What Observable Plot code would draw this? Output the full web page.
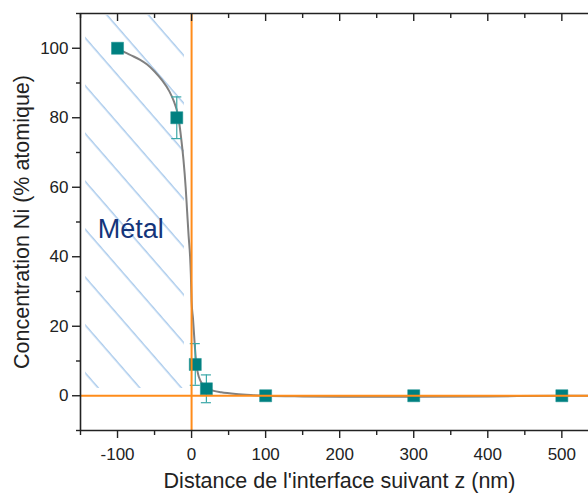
<!DOCTYPE html>
<html><head><meta charset="utf-8">
<script src="https://cdn.jsdelivr.net/npm/d3@7"></script>
<script src="https://cdn.jsdelivr.net/npm/@observablehq/plot@0.6"></script>
<style>body{margin:0;background:#fff} #chart svg{display:block}</style>
</head><body><div id="chart"></div>
<script>
// Measured points
const distance = [-100, -20, 5, 20, 100, 300, 500];
const concentration = [100, 80, 9, 2, 0, 0, 0];
const errorBar = [0, 6, 6, 4, 0, 0, 0];
// Fitted curve
const fitX = [-100, -90, -80, -70, -60, -50, -40, -30, -24, -20, -17, -14, -11, -8, -6, -4, -2, -1, 0, 2, 4, 6, 8, 10, 15, 20, 30, 40, 60, 80, 100, 150, 200, 300, 400, 500, 536];
const fitY = [100, 98.8, 97.8, 96.7, 95.3, 93.3, 90.8, 87.6, 84.8, 82.2, 79, 74, 68, 60, 53, 46, 40, 35, 27.3, 22, 15.5, 10, 7, 5.3, 3.2, 2.3, 1.4, 1.0, 0.5, 0.2, 0, -0.2, -0.3, -0.3, -0.2, 0, 0];
// Axes
const xTicks = [-100, 0, 100, 200, 300, 400, 500];
const xMinorTicks = [-150, -50, 50, 150, 250, 350, 450];
const yTicks = [0, 20, 40, 60, 80, 100];
const yMinorTicks = [-10, 10, 30, 50, 70, 90, 110];
const xDomain = [-150, 536];
const yDomain = [-10, 110];
const xTitle = "Distance de l'interface suivant z (nm)";
const yTitle = "Concentration Ni (% atomique)";
// Metal zone
const metalLabel = "Métal";
const metalZone = {x1: -143, x2: -9.6, y1: 2.1, y2: 109.4};

const points = distance.map((x, i) => ({x, y: concentration[i], e: errorBar[i]}));
const errs = points.filter(d => d.e > 0);
const fit = fitX.map((x, i) => ({x, y: fitY[i]}));

const W = 588, H = 493, mt = 13, mb = 63, ml = 80, mr = 0;
const frameH = H - mt - mb;
const orange = "#ff8c1a", ink = "#222", teal = "#008080", errColor = "#3aa8a8";

const plot = Plot.plot({
  width: W, height: H,
  marginTop: mt, marginBottom: mb, marginLeft: ml, marginRight: mr,
  style: {fontFamily: "'Liberation Sans', Arial, sans-serif", color: ink, background: "#fff"},
  x: {domain: xDomain},
  y: {domain: yDomain},
  marks: [
    Plot.rect([metalZone], {x1: "x1", x2: "x2", y1: "y1", y2: "y2", fill: "url(#hatch)"}),
    Plot.text([metalLabel], {text: d => d, x: -82, y: 48, fontSize: 27, fill: "#14357a"}),
    Plot.line(fit, {x: "x", y: "y", stroke: "#808080", strokeWidth: 2, curve: "monotone-x"}),
    Plot.ruleX(errs, {x: "x", y1: d => d.y - d.e, y2: d => d.y + d.e, stroke: errColor, strokeWidth: 1.2}),
    Plot.ruleY(errs, {y: d => d.y + d.e, x1: d => d.x - 6.8, x2: d => d.x + 6.8, stroke: errColor, strokeWidth: 1.2}),
    Plot.ruleY(errs, {y: d => d.y - d.e, x1: d => d.x - 6.8, x2: d => d.x + 6.8, stroke: errColor, strokeWidth: 1.2}),
    Plot.dot(points, {x: "x", y: "y", symbol: "square", r: 6.8, fill: teal, stroke: "#1a9090", strokeWidth: 0.5}),
    Plot.ruleX([0], {stroke: orange, strokeWidth: 2}),
    Plot.ruleY([0], {stroke: orange, strokeWidth: 2}),
    // frame lines
    Plot.ruleX([xDomain[0]], {stroke: ink, strokeWidth: 1.6}),
    Plot.ruleY([yDomain[1]], {stroke: ink, strokeWidth: 1.6}),
    Plot.ruleY([yDomain[0]], {stroke: ink, strokeWidth: 1.6}),
    // axes
    Plot.axisY(yTicks, {tickSize: 8, tickPadding: 4, fontSize: 17, label: null, strokeWidth: 1.4}),
    Plot.axisY(yMinorTicks, {tickSize: 4, tickFormat: () => "", label: null, strokeWidth: 1.4}),
    Plot.axisX(xTicks, {tickSize: 8, tickPadding: 9, fontSize: 17, label: null, tickFormat: d => String(d), strokeWidth: 1.4}),
    Plot.axisX(xMinorTicks, {tickSize: 5, tickFormat: () => "", label: null, strokeWidth: 1.4}),
    Plot.tickX(xTicks, {x: d => d, insetBottom: frameH - 8, stroke: ink, strokeWidth: 1.4}),
    Plot.tickX(xMinorTicks, {x: d => d, insetBottom: frameH - 5, stroke: ink, strokeWidth: 1.4}),
    // titles
    Plot.text([xTitle], {text: d => d, frameAnchor: "bottom", lineAnchor: "middle", textAnchor: "middle", dy: 51, dx: 5, fontSize: 21.5, fill: ink}),
    Plot.text([yTitle], {text: d => d, frameAnchor: "left", lineAnchor: "middle", textAnchor: "middle", rotate: -90, dx: -58, fontSize: 21.5, fill: ink})
  ]
});

d3.select(plot).insert("defs", ":first-child").html(
  `<pattern id="hatch" patternUnits="userSpaceOnUse" width="31.4" height="20" patternTransform="rotate(-41)">
     <line x1="8" y1="-1" x2="8" y2="21" stroke="#7fb0e3" stroke-width="1"/>
   </pattern>`
);
document.getElementById("chart").appendChild(plot);
</script>
</body></html>
